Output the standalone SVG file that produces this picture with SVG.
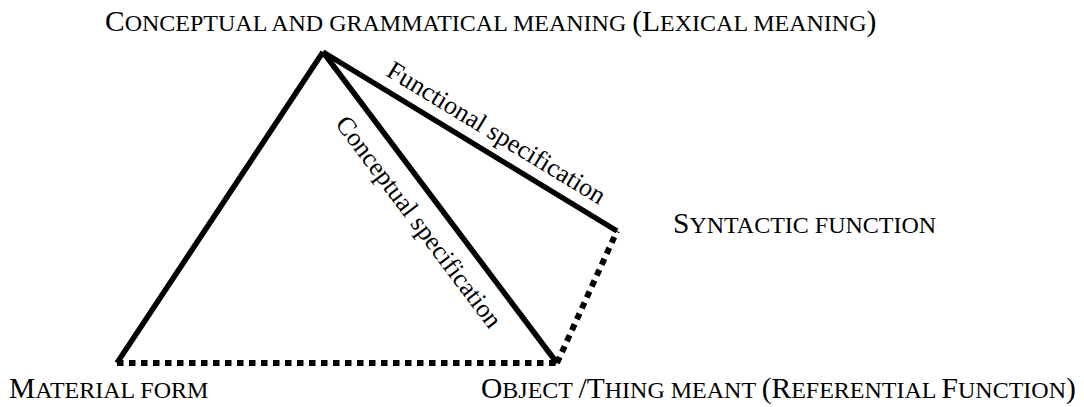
<svg xmlns="http://www.w3.org/2000/svg" width="1084" height="407" viewBox="0 0 1084 407">
<style>
.t{font-family:"Liberation Serif","Times New Roman",serif;font-size:29.5px;fill:#000}
.s{font-size:24px}
.lb{font-family:"Liberation Serif","Times New Roman",serif;font-size:26px;fill:#000}
.solid{stroke:#000;stroke-width:5.5;fill:none;stroke-linecap:butt}
.dot{stroke:#000;stroke-width:6;fill:none;stroke-dasharray:6.5 5.5}
</style>
<rect width="1084" height="407" fill="#fff"/>
<g id="connectors">
<line class="solid" x1="323" y1="52" x2="117" y2="363"/>
<line class="solid" x1="323" y1="52" x2="557" y2="363"/>
<line class="solid" x1="323" y1="52" x2="617" y2="231"/>
<line class="dot" x1="117" y1="363" x2="557" y2="363"/>
<line class="dot" x1="557" y1="363" x2="617" y2="231"/>
<text class="lb" text-anchor="middle" transform="translate(492,140) rotate(31.3)">Functional specification</text>
<text class="lb" text-anchor="middle" transform="translate(412,227) rotate(53)">Conceptual specification</text>
</g>
<g id="lexical"><text class="t" x="105" y="31">C<tspan class="s">ONCEPTUAL AND GRAMMATICAL MEANING </tspan>(L<tspan class="s">EXICAL MEANING</tspan>)</text></g>
<g id="syntactic"><text class="t" x="673" y="233">S<tspan class="s">YNTACTIC FUNCTION</tspan></text></g>
<g id="material"><text class="t" x="9" y="398">M<tspan class="s">ATERIAL FORM</tspan></text></g>
<g id="object"><text class="t" x="481" y="398">O<tspan class="s">BJECT </tspan>/T<tspan class="s">HING MEANT </tspan>(R<tspan class="s">EFERENTIAL </tspan>F<tspan class="s">UNCTION</tspan>)</text></g>
</svg>
